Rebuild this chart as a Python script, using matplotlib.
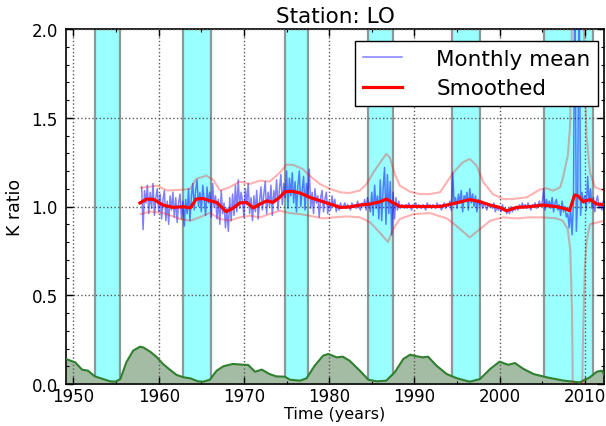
import numpy as np
import matplotlib
matplotlib.use("Agg")
import matplotlib.pyplot as plt
from matplotlib.ticker import MultipleLocator

# ---------------- data ----------------
title = "Station: LO"
xlabel = "Time (years)"
ylabel = "K ratio"
legend_labels = ["Monthly mean", "Smoothed"]

# shaded periods (start, end)
band_start = [1952.55, 1962.9, 1974.8, 1984.6, 1994.45, 2005.25]
band_end = [1955.45, 1966.15, 1977.5, 1987.5, 1997.65, 2010.95]

# monthly mean (bimonthly samples starting 1958.0)
blue_start = 1958.0
blue_v = [
    1.11, 0.87, 1.09, 1.02, 1.12, 0.96,
    1.08, 0.99, 1.13, 0.95, 1.05, 1.10,
    0.97, 1.07, 0.93, 1.04, 1.09, 0.92,
    1.03, 0.90, 1.06, 0.98, 1.08, 0.94,
    1.05, 0.91, 1.02, 1.07, 0.93, 1.03,
    0.89, 1.04, 0.96, 1.10, 0.92, 1.06,
    1.13, 0.98, 1.09, 1.15, 1.00, 1.08,
    0.97, 1.12, 1.04, 0.95, 1.11, 1.02,
    1.08, 0.94, 1.13, 1.00, 1.06, 0.93,
    1.04, 0.90, 1.09, 0.96, 1.02, 0.88,
    0.99, 0.86, 1.05, 0.92, 1.07, 0.95,
    1.12, 0.97, 1.15, 0.99, 1.08, 1.03,
    0.94, 1.10, 1.01, 1.13, 0.96, 1.05,
    0.92, 1.06, 0.97, 1.09, 0.93, 1.03,
    1.11, 0.98, 1.07, 1.14, 0.96, 1.08,
    1.00, 1.12, 0.95, 1.09, 1.03, 1.15,
    0.98, 1.10, 1.18, 1.01, 1.13, 1.05,
    1.20, 0.99, 1.16, 1.06, 1.19, 1.02,
    1.14, 0.97, 1.12, 1.20, 1.00, 1.09,
    1.17, 0.98, 1.13, 1.05, 1.21, 0.99,
    1.08, 0.96, 1.10, 1.02, 1.06, 0.94,
    1.05, 1.09, 0.97, 1.04, 1.08, 0.96,
    1.03, 0.98, 1.06, 1.00, 1.04, 0.97,
    1.01, 0.98, 1.02, 0.99, 1.00, 1.02,
    0.99, 1.01, 1.00, 0.98, 1.02, 1.00,
    1.01, 0.99, 1.03, 1.00, 0.98, 1.02,
    1.00, 1.04, 0.98, 1.05, 1.01, 0.97,
    1.08, 0.95, 1.12, 0.99, 1.06, 0.93,
    1.15, 0.92, 1.10, 1.22, 0.90, 1.18,
    0.96, 1.14, 0.84, 1.08, 0.93, 1.05,
    0.98, 1.03, 0.99, 1.01, 1.00, 0.99,
    1.01, 0.99, 1.02, 1.00, 0.98, 1.01,
    1.00, 1.02, 0.99, 1.01, 1.00, 0.99,
    1.01, 1.00, 0.98, 1.02, 1.00, 1.01,
    0.99, 1.01, 1.00, 0.99, 1.02, 1.00,
    1.01, 0.98, 1.00, 1.02, 0.99, 1.01,
    1.00, 1.03, 0.98, 1.19, 1.01, 1.05,
    0.99, 1.07, 1.02, 1.09, 0.97, 1.06,
    1.04, 1.08, 0.98, 1.10, 1.02, 1.07,
    1.00, 1.06, 0.97, 1.04, 1.01, 1.03,
    0.99, 1.02, 1.00, 0.98, 1.01, 1.00,
    1.01, 0.99, 1.02, 0.97, 1.00, 0.98,
    1.00, 0.97, 1.01, 0.98, 0.99, 0.96,
    0.98, 0.96, 1.00, 0.97, 0.99, 0.98,
    1.00, 0.98, 1.01, 0.99, 1.02, 0.99,
    1.01, 0.99, 1.02, 1.00, 0.98, 1.01,
    1.00, 1.02, 0.99, 1.01, 1.03, 1.00,
    1.02, 1.10, 0.98, 1.04, 1.00, 1.03,
    0.99, 1.05, 0.97, 1.02, 1.04, 0.98,
    1.01, 0.95, 1.03, 0.97, 1.00, 0.94,
    0.96, 0.88, 0.99, 0.84, 1.02, 2.40,
    0.86, 1.05, 2.40, 0.95, 1.08, 1.02,
    1.06, 0.98, 1.17, 1.02, 1.10, 0.99,
    1.05, 0.97, 1.03, 1.06, 0.99, 1.02,
    0.98, 1.03, 1.00,
]

# smoothed curve
red_t = [1957.8, 1958.6, 1959.4, 1960.5, 1961.7, 1962.9, 1963.7, 1964.4, 1965.2, 1966.0,
         1966.8, 1967.6, 1967.9, 1968.7, 1969.5, 1970.3, 1971.1, 1971.9, 1972.7, 1973.4,
         1974.2, 1974.8, 1975.6, 1976.6, 1977.7, 1978.9, 1980.1, 1981.3, 1982.4, 1983.6,
         1984.8, 1986.0, 1986.7, 1987.5, 1988.3, 1989.9, 1991.4, 1993.0, 1994.9, 1996.5,
         1997.7, 1998.9, 2000.0, 2000.8, 2002.0, 2003.5, 2005.1, 2006.7, 2007.8, 2008.2,
         2008.8, 2009.2, 2009.8, 2010.6, 2011.4, 2012.3]
red_v = [1.02, 1.042, 1.04, 1.008, 0.995, 0.999, 0.992, 1.042, 1.045, 1.032,
         1.023, 0.986, 0.971, 0.99, 1.02, 1.023, 0.992, 1.014, 1.032, 1.023,
         1.052, 1.083, 1.086, 1.076, 1.052, 1.033, 1.014, 0.995, 0.997, 1.008,
         1.014, 1.027, 1.042, 1.021, 1.001, 1.0, 1.0, 1.0, 1.02, 1.039,
         1.027, 1.008, 0.995, 0.976, 0.995, 0.999, 1.008, 0.999, 0.986, 0.976,
         1.065, 1.06, 1.027, 1.039, 1.014, 1.01]

# upper envelope
up_t = [1957.9, 1959.8, 1961.0, 1962.9, 1963.7, 1964.4, 1965.6, 1966.4, 1967.2, 1968.3,
        1969.5, 1970.7, 1971.9, 1973.0, 1974.2, 1975.0, 1975.8, 1976.9, 1977.7, 1978.9,
        1980.1, 1981.3, 1982.4, 1983.6, 1984.4, 1985.2, 1986.0, 1986.7, 1987.1, 1987.7,
        1988.3, 1989.5, 1990.6, 1991.8, 1993.0, 1994.6, 1995.7, 1996.5, 1997.3, 1998.1,
        1999.2, 2000.4, 2001.6, 2003.2, 2004.7, 2005.5, 2006.3, 2007.1, 2007.4, 2008.0,
        2008.25, 2008.45, 2008.6, 2009.6, 2009.8, 2010.0, 2010.2, 2010.6, 2011.2, 2012.3]
up_v = [1.105, 1.117, 1.09, 1.095, 1.10, 1.155, 1.174, 1.15, 1.09, 1.108,
        1.14, 1.127, 1.146, 1.14, 1.19, 1.236, 1.234, 1.211, 1.174, 1.127,
        1.099, 1.08, 1.076, 1.09, 1.127, 1.193, 1.249, 1.296, 1.277, 1.183,
        1.117, 1.083, 1.07, 1.07, 1.08, 1.193, 1.249, 1.268, 1.23, 1.136,
        1.07, 1.042, 1.042, 1.052, 1.095, 1.103, 1.089, 1.108, 1.155, 1.286,
        1.44, 1.9, 3.0, 3.0, 2.3, 1.7, 1.4, 1.19, 1.108, 1.089]

# lower envelope
lo_t = [1957.9, 1959.0, 1960.5, 1962.5, 1963.7, 1964.8, 1966.0, 1967.2, 1968.3, 1969.5,
        1970.7, 1971.9, 1973.0, 1974.2, 1975.4, 1976.6, 1977.7, 1979.3, 1980.5, 1982.0,
        1983.6, 1984.8, 1986.0, 1986.9, 1987.5, 1988.3, 1989.9, 1991.8, 1993.8, 1994.9,
        1996.5, 1997.7, 1998.9, 2000.4, 2002.0, 2003.5, 2005.1, 2006.7, 2007.4, 2008.0,
        2008.3, 2008.5, 2008.7, 2009.55, 2009.8, 2010.0, 2010.2, 2010.6, 2012.3]
lo_v = [0.958, 0.971, 0.964, 0.93, 0.92, 0.939, 0.964, 0.93, 0.92, 0.939,
        0.948, 0.939, 0.958, 0.976, 0.963, 0.957, 0.948, 0.933, 0.939, 0.944,
        0.939, 0.911, 0.85, 0.80, 0.873, 0.93, 0.957, 0.963, 0.933, 0.892,
        0.826, 0.873, 0.92, 0.939, 0.933, 0.939, 0.939, 0.933, 0.92, 0.873,
        0.75, 0.40, -0.5, -0.5, 0.30, 0.65, 0.80, 0.90, 0.92]

# scaled activity curve (green)
green_t = [1949.1, 1950.2, 1951.0, 1951.7, 1952.5, 1954.3, 1954.9, 1955.5, 1956.2, 1957.0,
           1957.8, 1958.2, 1959.0, 1959.8, 1960.5, 1961.3, 1962.1, 1962.9, 1963.7, 1964.6,
           1965.2, 1966.0, 1966.8, 1967.6, 1968.7, 1969.5, 1970.5, 1971.3, 1972.1, 1973.0,
           1973.8, 1974.8, 1975.4, 1976.6, 1977.35, 1978.3, 1979.3, 1979.9, 1980.9, 1981.6,
           1982.4, 1983.6, 1984.6, 1985.6, 1986.7, 1987.7, 1988.7, 1989.5, 1990.3, 1991.0,
           1991.6, 1992.6, 1993.8, 1995.0, 1996.5, 1997.7, 1998.9, 2000.0, 2001.0, 2001.8,
           2002.8, 2004.0, 2005.5, 2007.5, 2009.4, 2010.6, 2011.4, 2012.0, 2012.3]
green_v = [0.141, 0.122, 0.081, 0.075, 0.043, 0.015, 0.013, 0.028, 0.122, 0.188,
           0.21, 0.206, 0.182, 0.150, 0.113, 0.081, 0.051, 0.038, 0.032, 0.015,
           0.013, 0.024, 0.075, 0.10, 0.113, 0.11, 0.107, 0.069, 0.081, 0.056,
           0.043, 0.041, 0.024, 0.019, 0.032, 0.103, 0.16, 0.169, 0.15, 0.154,
           0.131, 0.075, 0.024, 0.015, 0.019, 0.066, 0.141, 0.165, 0.156, 0.15,
           0.154, 0.103, 0.056, 0.032, 0.013, 0.028, 0.085, 0.126, 0.108, 0.118,
           0.085, 0.056, 0.038, 0.019, 0.009, 0.038, 0.069, 0.075, 0.05]

# ---------------- plot ----------------
plt.rcParams['font.family'] = ['DejaVu Sans']
fig = plt.figure(figsize=(6.06, 4.27), dpi=100)
ax = fig.add_axes([66/606, 42/427, 538/606, 355/427])

for s, e in zip(band_start, band_end):
    ax.axvspan(s, e, facecolor=(0.6, 1.0, 1.0), edgecolor=(0.55, 0.6, 0.6), lw=1.6, zorder=1)

ax.fill_between(green_t, 0, green_v, color='#a3bca3', zorder=2, lw=0)
ax.plot(green_t, green_v, color='#2f7f2f', lw=1.5, zorder=3)

blue_t = blue_start + np.arange(len(blue_v)) / 6.0
ax.plot(blue_t, blue_v, color='blue', alpha=0.5, lw=1.1, zorder=4, label=legend_labels[0])
ax.plot(up_t, up_v, color='red', alpha=0.3, lw=1.5, zorder=4)
ax.plot(lo_t, lo_v, color='red', alpha=0.3, lw=1.5, zorder=4)
ax.plot(red_t, red_v, color='red', lw=2.3, zorder=5, label=legend_labels[1])

ax.set_xlim(1949.12, 2012.25)
ax.set_ylim(0, 2.0)
ax.xaxis.set_major_locator(MultipleLocator(10))
ax.xaxis.set_minor_locator(MultipleLocator(5))
ax.yaxis.set_major_locator(MultipleLocator(0.5))
ax.yaxis.set_minor_locator(MultipleLocator(0.1))
ax.tick_params(which='both', direction='in', top=True, right=True, labelsize=12)
ax.tick_params(axis='x', which='major', pad=2.5)
ax.tick_params(axis='y', which='major', pad=6)
ax.tick_params(which='major', length=5, width=1)
ax.tick_params(which='minor', length=2.5, width=0.8)
ax.grid(True, which='major', linestyle=':', color='0.35', lw=1, zorder=0)
ax.set_axisbelow(False)
for sp in ax.spines.values():
    sp.set_linewidth(1.2)

ax.set_title(title, fontsize=15.5, pad=5)
ax.set_xlabel(xlabel, fontsize=11.5)
ax.xaxis.label.set_va('top')
ax.xaxis.set_label_coords(0.5, (385 - 407.5) / 355)
ax.set_ylabel(ylabel, fontsize=12.5, labelpad=5)

leg = ax.legend(loc='upper right', bbox_to_anchor=(598/606, 1 - 42/427),
                bbox_transform=fig.transFigure, borderaxespad=0,
                fontsize=15.5, fancybox=False, framealpha=1, edgecolor='black',
                handlelength=1.8, handletextpad=1.6, borderpad=0.35, labelspacing=0.45)
leg.get_frame().set_linewidth(1.0)

fig.savefig('out.png', dpi=100)
